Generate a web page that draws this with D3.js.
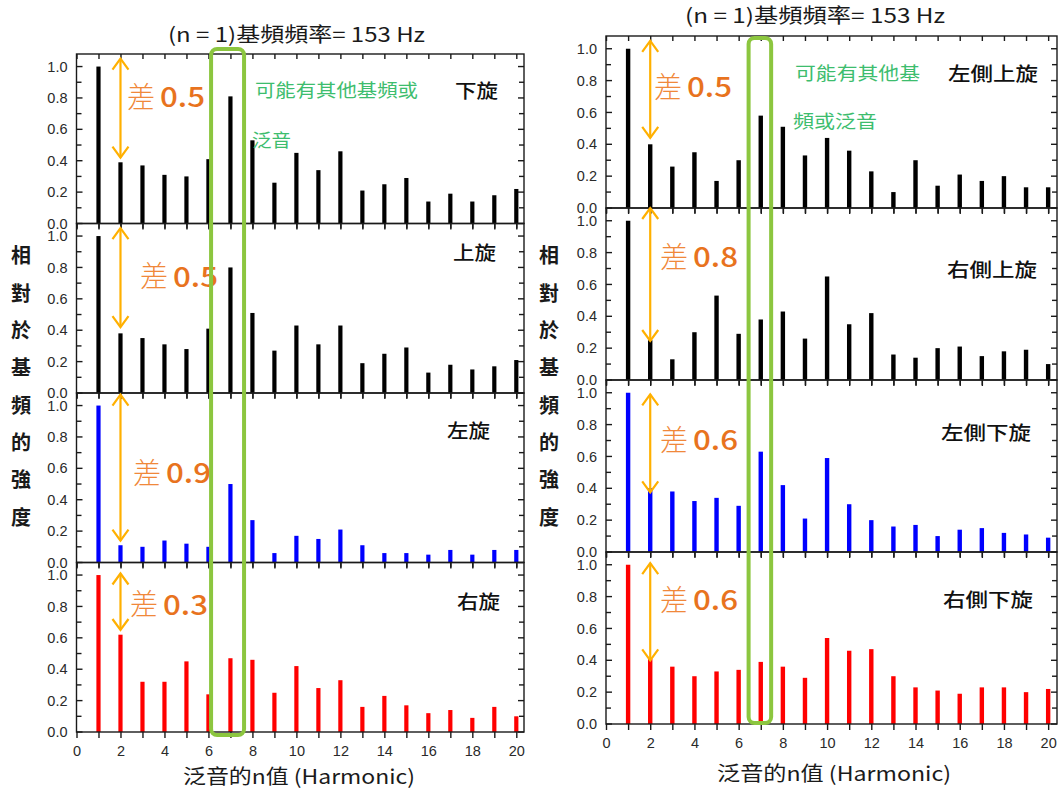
<!DOCTYPE html>
<html><head><meta charset="utf-8">
<script src="https://cdn.jsdelivr.net/npm/d3@7/dist/d3.min.js"></script>
<style>body{margin:0;background:#fff}svg{display:block}</style>
</head><body><svg id="chart" width="1062" height="793"></svg>
<script>
// ---------------- data ----------------
const harmonics = [1,2,3,4,5,6,7,8,9,10,11,12,13,14,15,16,17,18,19,20];
const xTickValues = [0,2,4,6,8,10,12,14,16,18,20];
const xMinorTickValues = [0,1,2,3,4,5,6,7,8,9,10,11,12,13,14,15,16,17,18,19,20];
const yTickValues = [0,0.2,0.4,0.6,0.8,1.0];
const yMinorTickValues = [0.1,0.3,0.5,0.7,0.9];

const chartTitle = "(n = 1)基頻頻率= 153 Hz";
const xAxisTitle = "泛音的n值 (Harmonic)";
const yAxisTitleChars = ["相","對","於","基","頻","的","強","度"];

const leftPanelNames  = ["下旋","上旋","左旋","右旋"];
const rightPanelNames = ["左側上旋","右側上旋","左側下旋","右側下旋"];

// relative intensity of each harmonic (n = 1..20)
const xiaXuan     = [1.00,0.39,0.37,0.31,0.30,0.41,0.81,0.53,0.26,0.45,0.34,0.46,0.21,0.25,0.29,0.14,0.19,0.14,0.18,0.22];
const shangXuan   = [1.00,0.38,0.35,0.31,0.28,0.41,0.80,0.51,0.27,0.43,0.31,0.43,0.19,0.25,0.29,0.13,0.18,0.15,0.17,0.21];
const zuoXuan     = [1.00,0.11,0.10,0.14,0.12,0.10,0.50,0.27,0.06,0.17,0.15,0.21,0.11,0.06,0.06,0.05,0.08,0.05,0.08,0.08];
const youXuan     = [1.00,0.62,0.32,0.32,0.45,0.24,0.47,0.46,0.25,0.42,0.28,0.33,0.16,0.23,0.17,0.12,0.14,0.09,0.16,0.10];
const zuoCeShang  = [1.00,0.40,0.26,0.35,0.17,0.30,0.58,0.51,0.33,0.44,0.36,0.23,0.10,0.30,0.14,0.21,0.17,0.20,0.13,0.13];
const youCeShang  = [1.00,0.25,0.13,0.30,0.53,0.29,0.38,0.43,0.26,0.65,0.35,0.42,0.16,0.14,0.20,0.21,0.15,0.18,0.19,0.10];
const zuoCeXia    = [1.00,0.40,0.38,0.32,0.34,0.29,0.63,0.42,0.21,0.59,0.30,0.20,0.16,0.17,0.10,0.14,0.15,0.12,0.11,0.09];
const youCeXia    = [1.00,0.41,0.36,0.30,0.33,0.34,0.39,0.36,0.29,0.54,0.46,0.47,0.30,0.23,0.21,0.19,0.23,0.23,0.20,0.22];

const leftDiffLabels  = ["0.5","0.5","0.9","0.3"];
const rightDiffLabels = ["0.5","0.8","0.6","0.6"];
// arrow spans [top, bottom] in data units at harmonic 2
const leftArrowSpans  = [[1.05,0.42],[1.05,0.42],[1.07,0.14],[1.01,0.65]];
const rightArrowSpans = [[1.05,0.44],[1.08,0.245],[0.99,0.375],[1.01,0.40]];

const leftNoteLines  = ["可能有其他基頻或","泛音"];
const rightNoteLines = ["可能有其他基","頻或泛音"];

// ---------------- layout / style ----------------
const barColors = ["#000000","#000000","#0000ff","#ff0000"];
const svg = d3.select("#chart");
const CJK = "'Noto Sans CJK TC','Noto Sans CJK SC',sans-serif";
const LAT = "'Liberation Sans',Arial,sans-serif";

const columns = [
  {x0:76.5, x1:524, xmax:20.35, top:54, bottom:732, series:[xiaXuan,shangXuan,zuoXuan,youXuan],
   names:leftPanelNames, nameX:[455,453,447,457], nameW:43, nameDy:[39,31,40,41],
   diffs:leftDiffLabels, arrows:leftArrowSpans, diffX:[127,140,133,130], diffDy:[46,56,83,45],
   title:{x:168,w:257,cy:37}, xlab:{x:183,w:232,cy:779}, ycx:21,
   notes:leftNoteLines, noteX:[255,252], noteW:[163,39], noteY:[92,142], box:[6.12,7.62], boxY:[49,735],
   barW:4.2},
  {x0:606, x1:1057, xmax:20.4, top:36, bottom:724, series:[zuoCeShang,youCeShang,zuoCeXia,youCeXia],
   names:rightPanelNames, nameX:[948,947,941,943], nameW:90, nameDy:[40,64,55,50],
   diffs:rightDiffLabels, arrows:rightArrowSpans, diffX:[654,660,660,660], diffDy:[54,52,63,51],
   title:{x:685,w:260,cy:18}, xlab:{x:717,w:234,cy:776}, ycx:549,
   notes:rightNoteLines, noteX:[795,793], noteW:[125,84], noteY:[75,123], box:[6.45,7.47], boxY:[38,723],
   barW:4.4}
];

function fit(sel, w) {
  return sel.attr("textLength", w).attr("lengthAdjust", "spacingAndGlyphs");
}

columns.forEach((col) => {
  const g = svg.append("g");
  const x = d3.scaleLinear().domain([0, col.xmax]).range([col.x0, col.x1]);
  const ph = (col.bottom - col.top) / 4;

  col.series.forEach((vals, i) => {
    const pTop = col.top + i*ph, pBot = pTop + ph;
    const y = d3.scaleLinear().domain([0, 1.08]).range([pBot, pTop]);
    const pg = g.append("g");

    // bars
    pg.selectAll("rect.bar").data(vals).join("rect")
      .attr("class","bar")
      .attr("x", (d,j) => x(harmonics[j]) - col.barW/2)
      .attr("width", col.barW)
      .attr("y", d => y(d))
      .attr("height", d => y(0) - y(d))
      .attr("fill", barColors[i]);

    // frame
    pg.append("rect").attr("x", col.x0).attr("y", pTop)
      .attr("width", col.x1 - col.x0).attr("height", ph)
      .attr("fill","none").attr("stroke","#1a1a1a").attr("stroke-width",1.4);

    // bottom axis ticks (outward) and top ticks (inward)
    const bottomAxis = d3.axisBottom(x).tickValues(xMinorTickValues).tickSize(6).tickFormat("");
    const ba = pg.append("g").attr("transform",`translate(0,${pBot})`).call(bottomAxis);
    ba.select(".domain").remove();
    ba.selectAll("line").attr("stroke","#1a1a1a").attr("stroke-width",1.4);
    const topAxis = d3.axisBottom(x).tickValues(xMinorTickValues).tickSize(5).tickFormat("");
    const ta = pg.append("g").attr("transform",`translate(0,${pTop})`).call(topAxis);
    ta.select(".domain").remove();
    ta.selectAll("line").attr("stroke","#1a1a1a").attr("stroke-width",1.4);

    // y axis (inward ticks) with labels
    const yAxis = d3.axisLeft(y).tickValues(yTickValues).tickSize(0).tickPadding(9).tickFormat(d3.format(".1f"));
    const ya = pg.append("g").attr("transform",`translate(${col.x0},0)`).call(yAxis);
    ya.select(".domain").remove();
    ya.selectAll("text").attr("font-family",LAT).attr("font-size",14.5).attr("fill","#2a2a2a");
    const allY = yTickValues.concat(yMinorTickValues);
    [col.x0, col.x1].forEach((ax, k) => {
      const dir = k === 0 ? 1 : -1;
      pg.selectAll(null).data(allY).join("line")
        .attr("x1", ax).attr("x2", d => ax + dir*(yTickValues.includes(d) ? 6 : 5))
        .attr("y1", d => y(d)).attr("y2", d => y(d))
        .attr("stroke","#1a1a1a").attr("stroke-width",1.4);
    });

    // panel name
    fit(pg.append("text").attr("x", col.nameX[i]).attr("y", pTop + col.nameDy[i])
      .attr("dominant-baseline","middle")
      .attr("font-family",CJK).attr("font-size",19).attr("font-weight",500).attr("fill","#111")
      .text(col.names[i]), col.nameW);

    // difference arrow
    const ax = x(2);
    const [a0, a1] = col.arrows[i];
    const ag = pg.append("g").attr("stroke","#FFB000").attr("stroke-width",2.2).attr("fill","none");
    ag.append("line").attr("x1",ax).attr("x2",ax).attr("y1",y(a0)).attr("y2",y(a1));
    ag.append("path").attr("d",`M${ax-8},${y(a0)+11}L${ax},${y(a0)}L${ax+8},${y(a0)+11}`);
    ag.append("path").attr("d",`M${ax-8},${y(a1)-11}L${ax},${y(a1)}L${ax+8},${y(a1)-11}`);

    // difference text
    const ty = pTop + col.diffDy[i];
    fit(pg.append("text").attr("x", col.diffX[i]).attr("y", ty).attr("dominant-baseline","middle")
      .attr("font-family",CJK).attr("font-size",29).attr("font-weight",300)
      .attr("fill","#F0883A").text("差"), 28);
    fit(pg.append("text").attr("x", col.diffX[i] + 33).attr("y", ty).attr("dominant-baseline","middle")
      .attr("font-family",CJK).attr("font-size",27).attr("font-weight",500)
      .attr("fill","#E8731E").text(col.diffs[i]), 45);
  });

  // x tick labels under last panel
  const xa = g.append("g").attr("transform",`translate(0,${col.bottom})`)
    .call(d3.axisBottom(x).tickValues(xTickValues).tickSize(0).tickPadding(14).tickFormat(d3.format("d")));
  xa.select(".domain").remove();
  xa.selectAll("text").attr("font-family",LAT).attr("font-size",14.5).attr("fill","#2a2a2a");

  // titles
  fit(g.append("text").attr("x", col.title.x).attr("y", col.title.cy)
    .attr("dominant-baseline","middle").attr("font-family",CJK).attr("font-size",20).attr("fill","#1a1a1a")
    .text(chartTitle), col.title.w);
  fit(g.append("text").attr("x", col.xlab.x).attr("y", col.xlab.cy)
    .attr("dominant-baseline","middle").attr("font-family",CJK).attr("font-size",20).attr("fill","#1a1a1a")
    .text(xAxisTitle), col.xlab.w);
  g.selectAll(null).data(yAxisTitleChars).join("text")
    .attr("x", col.ycx).attr("y", (d,k) => 258 + k*37.3).attr("text-anchor","middle")
    .attr("dominant-baseline","middle").attr("font-family",CJK).attr("font-size",20).attr("font-weight",700)
    .attr("fill","#1a1a1a").text(d => d);

  // green notes
  col.notes.forEach((t, k) => {
    fit(g.append("text").attr("x", col.noteX[k]).attr("y", col.noteY[k]).attr("dominant-baseline","middle")
      .attr("font-family",CJK).attr("font-size",18).attr("fill","#3DBD6E").text(t), col.noteW[k]);
  });

  // green highlight box around harmonic 7
  g.append("rect").attr("x", x(col.box[0])).attr("width", x(col.box[1]) - x(col.box[0]))
    .attr("y", col.boxY[0]).attr("height", col.boxY[1] - col.boxY[0])
    .attr("rx",6).attr("fill","none").attr("stroke","#8CC63F").attr("stroke-width",4);
});
</script>
</body></html>
